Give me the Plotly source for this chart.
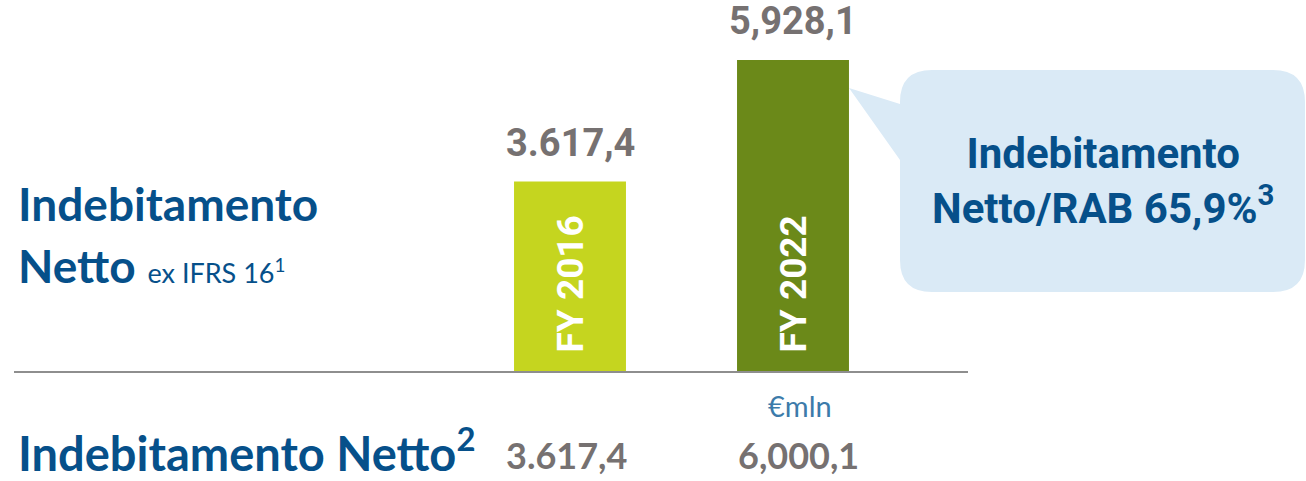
import plotly.graph_objects as go

# Data
categories = ["FY 2016", "FY 2022"]
net_debt_ex_ifrs16 = [3617.4, 5928.1]
net_debt_ex_ifrs16_labels = ["3.617,4", "5,928,1"]
net_debt = [3617.4, 6000.1]
net_debt_labels = ["3.617,4", "6,000,1"]
bar_colors = ["#C5D51F", "#6B8919"]
ratio_label = "Indebitamento<br>Netto/RAB 65,9%<sup>3</sup>"

W, H = 1306, 481
BLUE = "#06508A"
GREY = "#767171"


def px(x):
    return x / W


def py(y):
    return 1 - y / H


fig = go.Figure()
fig.add_trace(go.Bar(
    x=categories,
    y=net_debt_ex_ifrs16,
    marker=dict(color=bar_colors, line=dict(width=0)),
    width=0.502,
    hoverinfo="skip",
))

annotations = []

# Value labels above the bars and category names inside them
for cat, val, lab in zip(categories, net_debt_ex_ifrs16, net_debt_ex_ifrs16_labels):
    annotations.append(dict(
        x=cat, y=val, xref="x", yref="y", text=lab, showarrow=False,
        yanchor="bottom", yshift=15,
        font=dict(family="Roboto", size=38, color=GREY, weight="bold"),
    ))
    annotations.append(dict(
        x=cat, y=0, xref="x", yref="y", text=cat, showarrow=False,
        textangle=-90, yanchor="bottom", yshift=17,
        font=dict(family="Roboto", size=37, color="white", weight="bold"),
    ))

# Net debt row under the axis
for cat, lab, dx in zip(categories, net_debt_labels, [-4, 5]):
    annotations.append(dict(
        x=cat, y=py(479), xref="x", yref="paper", text=lab, showarrow=False,
        yanchor="bottom", xshift=dx,
        font=dict(family="Lato", size=36, color=GREY, weight="bold"),
    ))

annotations += [
    dict(x=px(16), y=py(203), xref="paper", yref="paper", xanchor="left",
         yanchor="middle", text="<b>Indebitamento</b>", showarrow=False,
         font=dict(family="Lato", size=46, color=BLUE)),
    dict(x=px(16), y=py(265), xref="paper", yref="paper", xanchor="left",
         yanchor="middle",
         text="<b>Netto</b> <span style='font-size:27px'>ex IFRS 16<sup>1</sup></span>",
         showarrow=False, font=dict(family="Lato", size=46, color=BLUE)),
    dict(x=px(16), y=py(450), xref="paper", yref="paper", xanchor="left",
         yanchor="middle", text="<b>Indebitamento Netto<sup>2</sup></b>",
         showarrow=False, font=dict(family="Lato", size=47, color=BLUE)),
    dict(x=px(800), y=py(405), xref="paper", yref="paper", xanchor="center",
         yanchor="middle", text="€mln", showarrow=False,
         font=dict(family="Lato", size=29, color="#3C7BAA")),
    dict(x=px(1103), y=py(181), xref="paper", yref="paper", xanchor="center",
         yanchor="middle", text=ratio_label, showarrow=False,
         font=dict(family="Roboto", size=42, color=BLUE, weight="bold")),
]

# Speech-bubble callout pointing at the FY 2022 bar
x0, y0, x1, y1, r = 900, 70, 1305, 292, 32


def P(x, y):
    return f"{px(x):.5f},{py(y):.5f}"


path = (
    f"M {P(x0 + r, y0)} L {P(x1 - r, y0)} Q {P(x1, y0)} {P(x1, y0 + r)} "
    f"L {P(x1, y1 - r)} Q {P(x1, y1)} {P(x1 - r, y1)} "
    f"L {P(x0 + r, y1)} Q {P(x0, y1)} {P(x0, y1 - r)} "
    f"L {P(x0, 160)} L {P(849, 88)} L {P(x0, 104)} "
    f"L {P(x0, y0 + r)} Q {P(x0, y0)} {P(x0 + r, y0)} Z"
)

shapes = [
    dict(type="path", xref="paper", yref="paper", path=path,
         fillcolor="#DAEAF6", line=dict(width=0), layer="below"),
    dict(type="line", xref="paper", yref="y", x0=px(14), x1=px(968), y0=0, y1=0,
         line=dict(color="#8E8E8E", width=2), layer="above"),
]

units_per_px = 19.0
fig.update_layout(
    width=W, height=H,
    margin=dict(l=0, r=0, t=0, b=0),
    paper_bgcolor="white", plot_bgcolor="white",
    showlegend=False,
    xaxis=dict(visible=False, range=[-570 / 223, (W - 570) / 223]),
    yaxis=dict(visible=False, range=[-(H - 372) * units_per_px, 372 * units_per_px]),
    annotations=annotations,
    shapes=shapes,
)

fig.write_html("out.html")
